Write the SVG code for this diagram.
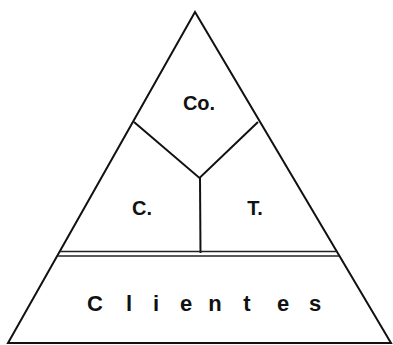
<svg xmlns="http://www.w3.org/2000/svg" width="393" height="345" viewBox="0 0 393 345">
<style>
.ln{stroke:#111;stroke-width:2;fill:none;stroke-linejoin:miter}
.dl{stroke:#222;stroke-width:1.6}
.t{font-family:"Liberation Sans",Arial,sans-serif;font-weight:bold;fill:#111;text-anchor:middle}
</style>
<rect width="393" height="345" fill="#fff"/>
<g id="connectors">
<polygon class="ln" points="195,12 8,343 391,343"/>
<polyline class="ln" points="134,122 199.5,178 258,122"/>
<line class="ln" x1="200" y1="178" x2="200.5" y2="253"/>
<line class="dl" x1="60" y1="251.5" x2="336" y2="251.5"/>
<line class="dl" x1="58" y1="256" x2="339" y2="256"/>
</g>
<g id="node-co"><text class="t" x="199" y="110" font-size="20">Co.</text></g>
<g id="node-c"><text class="t" x="142" y="215" font-size="20">C.</text></g>
<g id="node-t"><text class="t" x="255" y="215" font-size="20">T.</text></g>
<g id="node-clientes"><text class="t" font-size="22" y="311" x="95 129 156 186 215 247 283 315">Clientes</text></g>
</svg>
